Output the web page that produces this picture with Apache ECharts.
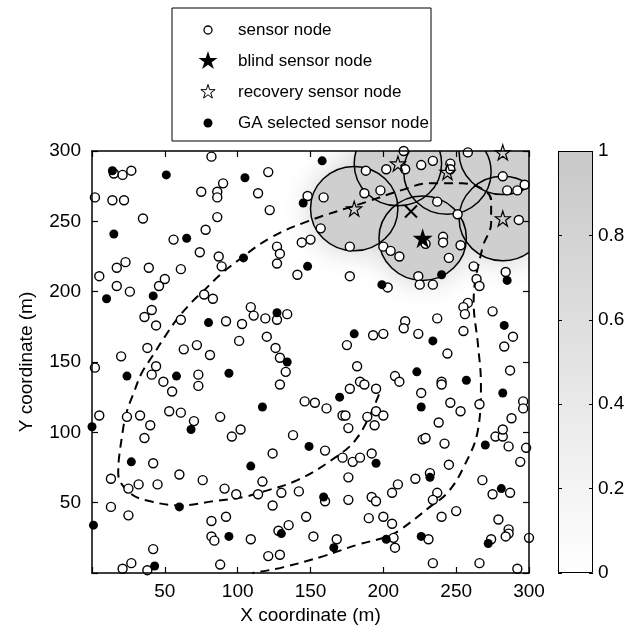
<!DOCTYPE html>
<html>
<head>
<meta charset="utf-8">
<script src="https://cdn.jsdelivr.net/npm/echarts@6/dist/echarts.min.js"></script>
<style>
  html, body { margin: 0; padding: 0; background: #fff; }
  #chart { width: 634px; height: 633px; }
</style>
</head>
<body>
<div id="chart"></div>
<script>
// sensor positions (m)
const sensorNodes = [
  [82,296],[15,284],[21,283],[27,286],[2,267],[14,265],[22,265],[75,271],[90,277],[86,271],[86,267],[35,252],[86,253],[56,237],[78,244],[74,228],[87,225],[89,218],[5,211],[17,217],[23,221],[39,217],[61,216],[50,209],[46,204],[17,204],[26,200],
  [77,198],[83,195],[41,187],[36,182],[44,176],[61,180],[92,179],[103,177],[101,165],[38,160],[20,154],[63,159],[72,162],[81,155],[2,146],[44,147],[41,141],[73,141],[73,133],[49,136],[55,129],[5,112],[24,111],[33,112],[53,115],[61,114],[70,108],[88,111],[40,105],[36,96],
  [96,97],[42,78],[13,67],[25,60],[32,63],[45,63],[60,70],[76,66],[91,60],[99,56],[13,47],[25,41],[82,37],[92,40],[82,26],[84,23],[42,17],[27,7],[21,3],[38,2],[88,6],
  [121,285],[114,270],[122,258],[148,268],[159,267],[188,286],[202,287],[187,270],[198,272],[157,245],[150,237],[144,235],[127,232],[129,227],[127,220],[177,232],[141,212],[177,211],
  [214,300],[215,287],[226,290],[234,293],[246,291],[246,287],[258,299],[282,282],[285,272],[292,272],[297,276],[237,264],[251,255],[293,251],[229,234],[241,239],[241,235],[245,224],[253,233],[200,232],[205,229],[211,225],[224,211],[225,205],[234,205],[203,203],[262,218],[264,209],[266,204],[284,214],
  [109,189],[111,183],[119,181],[127,180],[134,184],[120,168],[126,160],[129,153],[133,143],[129,134],[102,102],[138,98],[146,122],[153,121],[161,117],[175,162],[193,169],[200,170],[182,147],[177,131],[184,136],[187,134],[195,131],[172,112],[174,112],[176,103],[189,111],[195,115],[200,112],[194,105],
  [258,192],[255,189],[256,184],[275,186],[289,168],[283,161],[215,179],[214,174],[237,181],[224,170],[255,172],[244,156],[208,140],[211,136],[240,136],[240,134],[287,144],[226,128],[246,121],[253,115],[266,120],[296,122],[296,117],[288,110],[238,107],
  [227,95],[229,96],[242,92],[277,97],[282,97],[282,102],[286,90],[298,89],[294,79],[245,77],[222,67],[232,71],[210,63],[206,57],[237,57],[234,52],[268,66],[275,56],[287,57],[250,44],[240,40],[200,40],[206,35],[279,38],[286,31],[286,28],[284,26],[300,25],[207,25],[208,18],[231,24],[274,24],[234,7],[266,7],[292,3],
  [160,87],[124,85],[172,82],[179,79],[184,82],[192,85],[176,68],[117,65],[114,56],[130,57],[142,58],[124,48],[160,51],[176,52],[192,54],[195,51],[147,40],[135,34],[128,30],[109,24],[152,26],[168,24],[190,39],[121,12],[129,13]
];

const gaNodes = [
  [14,286],[51,283],[15,241],[65,238],[10,195],[42,197],[80,178],[24,140],[58,140],[94,142],[0,104],[68,102],
  [27,79],[60,47],[1,34],[94,26],[43,5],[158,293],[105,281],[145,263],[104,224],[148,218],[199,205],[240,212],
  [285,208],[127,185],[134,150],[117,118],[180,170],[170,125],[283,176],[234,165],[223,143],[257,137],[282,128],
  [226,118],[270,91],[232,68],[281,60],[202,24],[226,26],[272,21],[149,90],[109,76],[195,78],[159,54],[130,28],[166,18]
];

const recoveryNodes = [[180,259],[210,291],[244,285],[282,299],[282,252]];
const blindNodes = [[227,238]];
const estimateMarks = [[219,257]];

// coverage circles: x, y, radius (m)
const coverageCircles = [[180,259,30],[227,238,30],[282,252,30],[210,291,30],[244,285,30],[282,299,30]];

// dashed boundary
const boundaryPath = [
  [197,127],[182,96],[164,80],[141,66],[118,58],[104,54],[83,51],[61,48],[40,51],[26,57],[18,71],[21,100],
  [24,115],[29,129],[34,142],[42,155],[50,168],[58,180],[68,192],[78,202],[88,212],[100,222],[122,238],
  [148,250],[189,264],[212,272],[232,277],[254,277],[274,265],[274,249],[268,231],[262,193],[265,162],
  [267,134],[265,102],[255,75],[244,57],[232,47],[212,31],[203,26],[182,20],[159,12],[131,4],[116,1],[110,0]
];

const axisRange = [0, 300];
const axisStep = 50;
const colorRange = [0, 1];
const colorStep = 0.2;

const FONT = 'Liberation Sans, Arial, sans-serif';
const STAR = 'path://M50,0L61.2,34.5L97.6,34.5L68.2,55.9L79.4,90.5L50,69.1L20.6,90.5L31.8,55.9L2.4,34.5L38.8,34.5Z';
const XMARK = 'path://M0,0L10,10M10,0L0,10';
const SHADE = '#cfcfcf';

const chart = echarts.init(document.getElementById('chart'));

function starPoints(cx, cy, r) {
  const pts = [];
  for (let i = 0; i < 10; i++) {
    const a = -Math.PI / 2 + i * Math.PI / 5;
    const rr = i % 2 ? r * 0.382 : r;
    pts.push([cx + rr * Math.cos(a), cy + rr * Math.sin(a)]);
  }
  return pts;
}

function mainAxis(pos, opts) {
  return Object.assign({
    type: 'value', gridIndex: 0, position: pos, min: axisRange[0], max: axisRange[1], interval: axisStep,
    z: 10,
    axisLine: { show: true, onZero: false, lineStyle: { color: '#000', width: 1.5 } },
    axisTick: { show: true, inside: true, length: 6, lineStyle: { color: '#000', width: 1.2 } },
    axisLabel: { show: false },
    splitLine: { show: false }
  }, opts);
}

const tickLabel = {
  show: true, color: '#000', fontSize: 19, fontFamily: FONT,
  formatter: v => (v === 0 ? '' : String(v))
};

const legendRows = [
  { y: 30, text: 'sensor node' },
  { y: 61, text: 'blind sensor node' },
  { y: 92, text: 'recovery sensor node' },
  { y: 123, text: 'GA selected sensor node' }
];

chart.setOption({
  backgroundColor: '#fff',
  animation: false,
  grid: [
    { left: 92, top: 151, width: 437, height: 422 },
    { left: 558, top: 151, width: 35, height: 422 }
  ],
  xAxis: [
    mainAxis('bottom', {
      axisLabel: Object.assign({ margin: 9 }, tickLabel),
      name: 'X coordinate (m)', nameLocation: 'middle', nameGap: 33,
      nameTextStyle: { color: '#000', fontSize: 19, fontFamily: FONT }
    }),
    mainAxis('top'),
    { type: 'category', gridIndex: 1, data: [''], show: false }
  ],
  yAxis: [
    mainAxis('left', {
      axisLabel: Object.assign({ margin: 11 }, tickLabel),
      name: 'Y coordinate (m)', nameLocation: 'middle', nameGap: 56,
      nameTextStyle: { color: '#000', fontSize: 19, fontFamily: FONT }
    }),
    mainAxis('right'),
    {
      type: 'value', gridIndex: 1, position: 'right', min: colorRange[0], max: colorRange[1], interval: colorStep,
      z: 10,
      axisLine: { show: false },
      axisTick: { show: true, inside: true, length: 4, lineStyle: { color: '#000' } },
      axisLabel: { color: '#000', fontSize: 19, fontFamily: FONT, margin: 5, formatter: v => String(+v.toFixed(1)) },
      splitLine: { show: false }
    },
    {
      type: 'value', gridIndex: 1, position: 'left', min: colorRange[0], max: colorRange[1], interval: colorStep,
      z: 10,
      axisLine: { show: false },
      axisTick: { show: true, inside: true, length: 4, lineStyle: { color: '#000' } },
      axisLabel: { show: false },
      splitLine: { show: false }
    }
  ],
  graphic: [
    { type: 'rect', shape: { x: 172, y: 8, width: 259, height: 133 }, style: { fill: '#fff', stroke: '#000', lineWidth: 1 } },
    { type: 'circle', shape: { cx: 208, cy: legendRows[0].y, r: 4 }, style: { fill: '#fff', stroke: '#000', lineWidth: 1.3 } },
    { type: 'polygon', shape: { points: starPoints(208, legendRows[1].y, 10) }, style: { fill: '#000' } },
    { type: 'polygon', shape: { points: starPoints(208, legendRows[2].y, 7.5) }, style: { fill: '#fff', stroke: '#000', lineWidth: 1 } },
    { type: 'circle', shape: { cx: 208, cy: legendRows[3].y, r: 4.5 }, style: { fill: '#000' } }
  ].concat(legendRows.map(r => ({
    type: 'text', x: 238, y: r.y,
    style: { text: r.text, fill: '#000', font: '17px ' + FONT, textVerticalAlign: 'middle' }
  }))),
  series: [
    {
      // colorbar
      type: 'bar', xAxisIndex: 2, yAxisIndex: 2, data: [colorRange[1]], barWidth: '100%', silent: true,
      itemStyle: {
        borderColor: '#000', borderWidth: 1,
        color: new echarts.graphic.LinearGradient(0, 0, 0, 1, [
          { offset: 0, color: '#c8c8c8' }, { offset: 1, color: '#ffffff' }
        ])
      }
    },
    {
      // soft coverage shading
      type: 'custom', xAxisIndex: 0, yAxisIndex: 0, data: coverageCircles, clip: true, z: 1, silent: true,
      renderItem: (params, api) => {
        const c = api.coord([api.value(0), api.value(1)]);
        const s = api.size([api.value(2), api.value(2)]);
        return {
          type: 'ellipse',
          shape: { cx: c[0], cy: c[1], rx: s[0], ry: s[1] },
          style: { fill: SHADE, shadowBlur: 30, shadowColor: SHADE }
        };
      }
    },
    {
      type: 'line', xAxisIndex: 0, yAxisIndex: 0, data: boundaryPath, smooth: 0.4, showSymbol: false, symbol: 'none',
      clip: true, z: 3, silent: true,
      lineStyle: { color: '#000', width: 2, type: [9, 6] }
    },
    {
      // circle outlines
      type: 'custom', xAxisIndex: 0, yAxisIndex: 0, data: coverageCircles, clip: true, z: 4, silent: true,
      renderItem: (params, api) => {
        const c = api.coord([api.value(0), api.value(1)]);
        const s = api.size([api.value(2), api.value(2)]);
        return {
          type: 'ellipse',
          shape: { cx: c[0], cy: c[1], rx: s[0], ry: s[1] },
          style: { fill: 'none', stroke: '#000', lineWidth: 1.5 }
        };
      }
    },
    {
      name: 'sensor node', type: 'scatter', data: sensorNodes, symbol: 'circle', symbolSize: 9, z: 5,
      itemStyle: { color: '#fff', borderColor: '#000', borderWidth: 1.4, opacity: 1 }
    },
    {
      name: 'GA selected sensor node', type: 'scatter', data: gaNodes, symbol: 'circle', symbolSize: 9, z: 6,
      itemStyle: { color: '#000', opacity: 1 }
    },
    {
      name: 'recovery sensor node', type: 'scatter', data: recoveryNodes, symbol: STAR, symbolSize: 15, z: 7,
      itemStyle: { color: 'rgba(0,0,0,0)', borderColor: '#000', borderWidth: 1.2, opacity: 1 }
    },
    {
      name: 'blind sensor node', type: 'scatter', data: blindNodes, symbol: STAR, symbolSize: 20, z: 7,
      itemStyle: { color: '#000', opacity: 1 }
    },
    {
      type: 'scatter', data: estimateMarks, symbol: XMARK, symbolSize: 12, z: 7,
      itemStyle: { color: 'rgba(0,0,0,0)', borderColor: '#000', borderWidth: 2, opacity: 1 }
    }
  ]
});
</script>
</body>
</html>
